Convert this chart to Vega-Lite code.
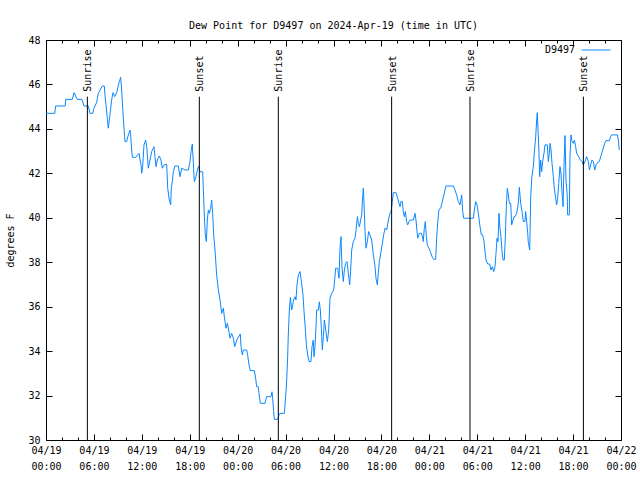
{
  "$schema": "https://vega.github.io/schema/vega-lite/v6.json",
  "width": 575,
  "height": 400,
  "autosize": "none",
  "padding": {"left": 46, "top": 40, "right": 19, "bottom": 40},
  "background": "white",
  "config": {
    "view": {"stroke": "black", "strokeWidth": 1},
    "font": "DejaVu Sans Mono"
  },
  "title": {
    "text": "Dew Point for D9497 on 2024-Apr-19 (time in UTC)",
    "font": "DejaVu Sans Mono",
    "fontSize": 10,
    "fontWeight": "normal",
    "color": "black",
    "frame": "group",
    "anchor": "middle",
    "baseline": "alphabetic",
    "offset": -4
  },
  "datasets": {
    "dew": [
      {"hour":0,"dewpoint":44.7},{"hour":1.1,"dewpoint":44.7},{"hour":1.2,"dewpoint":45.03},{"hour":2.4,"dewpoint":45.03},{"hour":2.47,"dewpoint":45.33},{"hour":3.3,"dewpoint":45.33},{"hour":3.51,"dewpoint":45.63},{"hour":3.92,"dewpoint":45.33},{"hour":4.5,"dewpoint":45.33},{"hour":4.76,"dewpoint":45.03},{"hour":5.3,"dewpoint":45.03},{"hour":5.51,"dewpoint":44.7},{"hour":5.85,"dewpoint":44.7},{"hour":6.01,"dewpoint":44.92},{"hour":6.35,"dewpoint":45.2},{"hour":6.55,"dewpoint":45.6},{"hour":7.05,"dewpoint":45.93},{"hour":7.3,"dewpoint":45.93},{"hour":7.39,"dewpoint":45.5},{"hour":7.68,"dewpoint":44.48},{"hour":7.8,"dewpoint":44.03},{"hour":7.98,"dewpoint":44.55},{"hour":8.23,"dewpoint":45.33},{"hour":8.39,"dewpoint":45.63},{"hour":8.6,"dewpoint":45.45},{"hour":8.85,"dewpoint":45.63},{"hour":9.14,"dewpoint":46.08},{"hour":9.35,"dewpoint":46.32},{"hour":9.48,"dewpoint":45.75},{"hour":9.64,"dewpoint":44.7},{"hour":9.8,"dewpoint":43.88},{"hour":9.89,"dewpoint":43.43},{"hour":10.1,"dewpoint":43.43},{"hour":10.31,"dewpoint":43.73},{"hour":10.52,"dewpoint":43.95},{"hour":10.6,"dewpoint":43.73},{"hour":10.73,"dewpoint":43.05},{"hour":10.81,"dewpoint":42.72},{"hour":11.23,"dewpoint":42.72},{"hour":11.65,"dewpoint":42.9},{"hour":11.93,"dewpoint":42.3},{"hour":11.98,"dewpoint":42.0},
      {"hour":12.1,"dewpoint":42.3},{"hour":12.27,"dewpoint":43.28},{"hour":12.48,"dewpoint":43.5},{"hour":12.61,"dewpoint":43.2},{"hour":12.81,"dewpoint":42.23},{"hour":13.02,"dewpoint":42.6},{"hour":13.23,"dewpoint":42.98},{"hour":13.52,"dewpoint":43.2},{"hour":13.65,"dewpoint":42.75},{"hour":13.77,"dewpoint":42.3},{"hour":13.94,"dewpoint":42.6},{"hour":14.19,"dewpoint":42.78},{"hour":14.4,"dewpoint":42.6},{"hour":14.57,"dewpoint":42.23},{"hour":14.78,"dewpoint":42.38},{"hour":15.11,"dewpoint":42.41},{"hour":15.24,"dewpoint":41.33},{"hour":15.44,"dewpoint":40.8},{"hour":15.61,"dewpoint":40.58},{"hour":15.69,"dewpoint":41.33},{"hour":15.82,"dewpoint":41.63},{"hour":15.94,"dewpoint":42.07},{"hour":16.15,"dewpoint":42.33},{"hour":16.57,"dewpoint":42.33},{"hour":16.78,"dewpoint":41.85},{"hour":16.99,"dewpoint":42.23},{"hour":17.41,"dewpoint":42.15},{"hour":17.82,"dewpoint":42.15},{"hour":18.03,"dewpoint":42.52},{"hour":18.16,"dewpoint":42.98},{"hour":18.32,"dewpoint":43.32},{"hour":18.45,"dewpoint":42.45},{"hour":18.57,"dewpoint":41.63},{"hour":18.78,"dewpoint":41.85},{"hour":18.95,"dewpoint":42.15},{"hour":19.12,"dewpoint":42.33},{"hour":19.28,"dewpoint":42.07},{"hour":19.62,"dewpoint":42.07},{"hour":19.7,"dewpoint":41.33},{"hour":19.83,"dewpoint":40.05},{"hour":19.95,"dewpoint":39.23},{"hour":20.08,"dewpoint":38.93},{"hour":20.2,"dewpoint":39.9},{"hour":20.33,"dewpoint":40.35},{"hour":20.45,"dewpoint":40.2},{"hour":20.62,"dewpoint":40.43},{"hour":20.74,"dewpoint":40.8},{"hour":20.87,"dewpoint":40.2},{"hour":21.0,"dewpoint":39.23},{"hour":21.16,"dewpoint":38.55},{"hour":21.37,"dewpoint":37.43},{"hour":21.58,"dewpoint":36.75},{"hour":21.79,"dewpoint":36.3},{"hour":22.0,"dewpoint":35.7},{"hour":22.21,"dewpoint":35.93},{"hour":22.33,"dewpoint":35.55},{"hour":22.54,"dewpoint":35.03},{"hour":22.71,"dewpoint":35.25},{"hour":22.87,"dewpoint":34.95},{"hour":23.04,"dewpoint":34.58},{"hour":23.25,"dewpoint":34.8},{"hour":23.46,"dewpoint":34.58},{"hour":23.63,"dewpoint":34.2},{"hour":23.88,"dewpoint":34.5},
      {"hour":24.17,"dewpoint":34.68},{"hour":24.33,"dewpoint":34.77},{"hour":24.42,"dewpoint":34.2},{"hour":24.58,"dewpoint":33.83},{"hour":24.71,"dewpoint":34.05},{"hour":25.13,"dewpoint":34.05},{"hour":25.25,"dewpoint":33.83},{"hour":25.42,"dewpoint":33.38},{"hour":25.59,"dewpoint":33.12},{"hour":26.09,"dewpoint":33.12},{"hour":26.25,"dewpoint":32.78},{"hour":26.38,"dewpoint":32.4},{"hour":26.59,"dewpoint":32.4},{"hour":26.67,"dewpoint":32.1},{"hour":26.84,"dewpoint":31.65},{"hour":27.42,"dewpoint":31.65},{"hour":27.63,"dewpoint":31.95},{"hour":28.17,"dewpoint":31.95},{"hour":28.3,"dewpoint":32.17},{"hour":28.38,"dewpoint":31.88},{"hour":28.51,"dewpoint":31.28},{"hour":28.59,"dewpoint":30.93},{"hour":29.01,"dewpoint":30.93},{"hour":29.18,"dewpoint":31.13},{"hour":29.3,"dewpoint":31.2},{"hour":29.84,"dewpoint":31.2},{"hour":30.01,"dewpoint":31.95},{"hour":30.14,"dewpoint":32.7},{"hour":30.26,"dewpoint":33.75},{"hour":30.34,"dewpoint":34.73},{"hour":30.47,"dewpoint":35.85},{"hour":30.6,"dewpoint":36.42},{"hour":30.76,"dewpoint":35.85},{"hour":30.89,"dewpoint":36.08},{"hour":31.01,"dewpoint":36.3},{"hour":31.18,"dewpoint":36.45},{"hour":31.3,"dewpoint":36.3},{"hour":31.43,"dewpoint":36.98},{"hour":31.6,"dewpoint":37.43},{"hour":31.81,"dewpoint":37.58},{"hour":32.01,"dewpoint":37.05},{"hour":32.18,"dewpoint":36.53},{"hour":32.31,"dewpoint":35.78},{"hour":32.47,"dewpoint":35.03},{"hour":32.6,"dewpoint":34.28},{"hour":32.77,"dewpoint":33.83},{"hour":32.93,"dewpoint":33.53},{"hour":33.18,"dewpoint":33.53},{"hour":33.31,"dewpoint":34.2},{"hour":33.47,"dewpoint":34.5},{"hour":33.56,"dewpoint":33.75},{"hour":33.68,"dewpoint":34.2},{"hour":33.81,"dewpoint":35.1},{"hour":33.89,"dewpoint":35.85},{"hour":34.1,"dewpoint":35.85},{"hour":34.23,"dewpoint":36.22},{"hour":34.35,"dewpoint":35.85},{"hour":34.48,"dewpoint":35.03},{"hour":34.6,"dewpoint":34.05},{"hour":34.73,"dewpoint":34.65},{"hour":34.85,"dewpoint":35.4},{"hour":34.98,"dewpoint":35.1},{"hour":35.1,"dewpoint":34.75},{"hour":35.23,"dewpoint":34.43},{"hour":35.4,"dewpoint":34.95},{"hour":35.56,"dewpoint":36.38},{"hour":35.77,"dewpoint":36.6},{"hour":36.02,"dewpoint":36.75},{"hour":36.15,"dewpoint":37.23},
      {"hour":36.27,"dewpoint":37.73},{"hour":36.52,"dewpoint":37.73},{"hour":36.69,"dewpoint":37.28},{"hour":36.81,"dewpoint":38.63},{"hour":36.94,"dewpoint":39.15},{"hour":37.06,"dewpoint":37.8},{"hour":37.23,"dewpoint":37.13},{"hour":37.36,"dewpoint":37.65},{"hour":37.52,"dewpoint":37.95},{"hour":37.69,"dewpoint":38.03},{"hour":37.86,"dewpoint":37.5},{"hour":38.03,"dewpoint":36.98},{"hour":38.15,"dewpoint":37.65},{"hour":38.28,"dewpoint":38.55},{"hour":38.48,"dewpoint":38.93},{"hour":38.69,"dewpoint":39.08},{"hour":38.82,"dewpoint":39.45},{"hour":38.99,"dewpoint":40.05},{"hour":39.11,"dewpoint":39.75},{"hour":39.24,"dewpoint":39.6},{"hour":39.4,"dewpoint":39.9},{"hour":39.53,"dewpoint":40.13},{"hour":39.65,"dewpoint":40.95},{"hour":39.74,"dewpoint":41.33},{"hour":39.82,"dewpoint":40.65},{"hour":39.95,"dewpoint":39.38},{"hour":40.07,"dewpoint":38.63},{"hour":40.24,"dewpoint":38.93},{"hour":40.4,"dewpoint":39.38},{"hour":40.57,"dewpoint":39.23},{"hour":40.78,"dewpoint":39.0},{"hour":40.99,"dewpoint":38.33},{"hour":41.2,"dewpoint":37.8},{"hour":41.32,"dewpoint":37.28},{"hour":41.49,"dewpoint":36.98},{"hour":41.61,"dewpoint":37.5},{"hour":41.74,"dewpoint":38.03},{"hour":41.95,"dewpoint":38.48},{"hour":42.12,"dewpoint":38.85},{"hour":42.28,"dewpoint":39.23},{"hour":42.45,"dewpoint":39.53},{"hour":42.66,"dewpoint":39.45},{"hour":42.87,"dewpoint":39.9},{"hour":43.08,"dewpoint":40.2},{"hour":43.2,"dewpoint":40.28},{"hour":43.37,"dewpoint":40.73},{"hour":43.49,"dewpoint":41.13},{"hour":43.83,"dewpoint":41.13},{"hour":44.04,"dewpoint":40.88},{"hour":44.2,"dewpoint":40.65},{"hour":44.33,"dewpoint":40.5},{"hour":44.45,"dewpoint":40.73},{"hour":44.62,"dewpoint":40.73},{"hour":44.74,"dewpoint":40.28},{"hour":44.87,"dewpoint":40.05},{"hour":45.0,"dewpoint":40.28},{"hour":45.16,"dewpoint":39.83},{"hour":45.29,"dewpoint":39.68},{"hour":45.45,"dewpoint":39.83},{"hour":45.58,"dewpoint":39.9},{"hour":46.0,"dewpoint":39.9},{"hour":46.21,"dewpoint":40.2},{"hour":46.33,"dewpoint":39.9},{"hour":46.46,"dewpoint":39.38},{"hour":46.54,"dewpoint":39.08},{"hour":46.75,"dewpoint":39.3},{"hour":47.04,"dewpoint":39.3},{"hour":47.17,"dewpoint":39.08},{"hour":47.24,"dewpoint":38.93},{"hour":47.37,"dewpoint":39.53},
      {"hour":47.5,"dewpoint":39.83},{"hour":47.63,"dewpoint":39.15},{"hour":47.75,"dewpoint":38.78},{"hour":47.96,"dewpoint":38.63},{"hour":48.17,"dewpoint":38.43},{"hour":48.38,"dewpoint":38.22},{"hour":48.54,"dewpoint":38.13},{"hour":48.79,"dewpoint":38.13},{"hour":48.92,"dewpoint":39.08},{"hour":49.04,"dewpoint":39.75},{"hour":49.21,"dewpoint":40.38},{"hour":49.42,"dewpoint":40.43},{"hour":49.67,"dewpoint":40.8},{"hour":49.96,"dewpoint":41.25},{"hour":50.09,"dewpoint":41.43},{"hour":51.01,"dewpoint":41.43},{"hour":51.21,"dewpoint":41.25},{"hour":51.42,"dewpoint":41.03},{"hour":51.63,"dewpoint":40.73},{"hour":51.84,"dewpoint":40.58},{"hour":52.05,"dewpoint":41.03},{"hour":52.18,"dewpoint":40.28},{"hour":52.3,"dewpoint":39.98},{"hour":53.51,"dewpoint":39.98},{"hour":53.64,"dewpoint":40.35},{"hour":53.8,"dewpoint":40.73},{"hour":53.97,"dewpoint":40.58},{"hour":54.14,"dewpoint":40.2},{"hour":54.35,"dewpoint":39.6},{"hour":54.51,"dewpoint":39.23},{"hour":54.68,"dewpoint":39.23},{"hour":54.85,"dewpoint":38.93},{"hour":54.97,"dewpoint":38.48},{"hour":55.1,"dewpoint":38.1},{"hour":55.3,"dewpoint":37.92},{"hour":55.56,"dewpoint":37.92},{"hour":55.72,"dewpoint":37.65},{"hour":55.89,"dewpoint":37.8},{"hour":56.06,"dewpoint":37.58},{"hour":56.22,"dewpoint":37.8},{"hour":56.35,"dewpoint":38.4},{"hour":56.47,"dewpoint":39.08},{"hour":56.6,"dewpoint":38.93},{"hour":56.72,"dewpoint":40.2},{"hour":56.85,"dewpoint":39.53},{"hour":56.97,"dewpoint":39.15},{"hour":57.1,"dewpoint":38.48},{"hour":57.23,"dewpoint":38.1},{"hour":57.39,"dewpoint":38.1},{"hour":57.52,"dewpoint":39.15},{"hour":57.64,"dewpoint":40.5},{"hour":57.77,"dewpoint":41.33},{"hour":57.89,"dewpoint":41.03},{"hour":58.02,"dewpoint":40.65},{"hour":58.19,"dewpoint":40.65},{"hour":58.31,"dewpoint":39.68},{"hour":58.48,"dewpoint":39.9},{"hour":58.6,"dewpoint":40.05},
      {"hour":58.73,"dewpoint":40.05},{"hour":58.94,"dewpoint":40.2},{"hour":59.14,"dewpoint":40.65},{"hour":59.27,"dewpoint":41.37},{"hour":59.44,"dewpoint":40.65},{"hour":59.64,"dewpoint":40.2},{"hour":59.77,"dewpoint":39.83},{"hour":59.98,"dewpoint":39.83},{"hour":60.06,"dewpoint":40.28},{"hour":60.19,"dewpoint":39.83},{"hour":60.32,"dewpoint":39.3},{"hour":60.39,"dewpoint":38.9},{"hour":60.57,"dewpoint":38.55},{"hour":60.69,"dewpoint":40.88},{"hour":60.82,"dewpoint":41.78},{"hour":61.02,"dewpoint":42.3},{"hour":61.15,"dewpoint":42.98},{"hour":61.32,"dewpoint":43.65},{"hour":61.44,"dewpoint":44.4},{"hour":61.52,"dewpoint":44.73},{"hour":61.61,"dewpoint":43.95},{"hour":61.73,"dewpoint":42.9},{"hour":61.82,"dewpoint":41.85},{"hour":61.94,"dewpoint":42.6},{"hour":62.07,"dewpoint":42.08},{"hour":62.19,"dewpoint":42.53},{"hour":62.36,"dewpoint":42.9},{"hour":62.48,"dewpoint":43.28},{"hour":62.78,"dewpoint":43.28},{"hour":62.9,"dewpoint":42.53},{"hour":63.03,"dewpoint":42.9},{"hour":63.11,"dewpoint":43.35},{"hour":63.24,"dewpoint":43.05},{"hour":63.36,"dewpoint":42.45},{"hour":63.53,"dewpoint":41.85},{"hour":63.65,"dewpoint":41.33},{"hour":63.82,"dewpoint":40.88},{"hour":63.94,"dewpoint":40.58},{"hour":64.07,"dewpoint":40.88},{"hour":64.2,"dewpoint":41.55},{"hour":64.36,"dewpoint":42.3},{"hour":64.49,"dewpoint":41.97},{"hour":64.61,"dewpoint":41.18},{"hour":64.74,"dewpoint":40.5},{"hour":64.86,"dewpoint":42.3},{"hour":64.99,"dewpoint":43.7},{"hour":65.11,"dewpoint":41.7},{"hour":65.28,"dewpoint":40.95},{"hour":65.32,"dewpoint":40.13},{"hour":65.53,"dewpoint":40.13},{"hour":65.61,"dewpoint":42.75},{"hour":65.74,"dewpoint":43.73},{"hour":65.86,"dewpoint":43.43},{"hour":66.03,"dewpoint":43.35},{"hour":66.16,"dewpoint":43.5},{"hour":66.32,"dewpoint":43.2},{"hour":66.45,"dewpoint":42.9},{"hour":66.66,"dewpoint":42.78},{"hour":66.87,"dewpoint":42.63},{"hour":67.12,"dewpoint":42.53},{"hour":67.29,"dewpoint":42.38},{"hour":67.49,"dewpoint":42.53},{"hour":67.7,"dewpoint":42.75},{"hour":67.91,"dewpoint":42.53},{"hour":68.04,"dewpoint":42.15},{"hour":68.2,"dewpoint":42.38},{"hour":68.37,"dewpoint":42.6},{"hour":68.54,"dewpoint":42.53},{"hour":68.71,"dewpoint":42.15},{"hour":68.87,"dewpoint":42.38},{"hour":69.04,"dewpoint":42.48},{"hour":69.29,"dewpoint":42.53},{"hour":69.46,"dewpoint":42.75},{"hour":69.71,"dewpoint":43.05},{"hour":69.96,"dewpoint":43.35},{"hour":70.12,"dewpoint":43.47},{"hour":70.54,"dewpoint":43.47},{"hour":70.71,"dewpoint":43.65},{"hour":70.83,"dewpoint":43.73},{"hour":71.54,"dewpoint":43.73},{"hour":71.67,"dewpoint":43.5},{"hour":71.79,"dewpoint":43.05}
    ],
    "sun": [
      {"hour":5.18,"event":"Sunrise"},{"hour":19.2,"event":"Sunset"},{"hour":29.09,"event":"Sunrise"},{"hour":43.28,"event":"Sunset"},{"hour":53.09,"event":"Sunrise"},{"hour":67.29,"event":"Sunset"}
    ]
  },
  "layer": [
    {
      "data": {"name": "dew"},
      "mark": {"type": "line", "color": "#0a88ff", "strokeWidth": 1},
      "encoding": {
        "x": {
          "field": "hour", "type": "quantitative",
          "scale": {"domain": [0, 72], "nice": false, "zero": false},
          "axis": {
            "orient": "bottom",
            "values": [0,2,4,6,8,10,12,14,16,18,20,22,24,26,28,30,32,34,36,38,40,42,44,46,48,50,52,54,56,58,60,62,64,66,68,70,72],
            "domain": false, "grid": false,
            "tickColor": "black",
            "tickSize": {"condition": {"test": "datum.value % 6 === 0", "value": -6}, "value": -3},
            "labelExpr": "datum.value % 6 === 0 ? ['04/' + (19 + floor(datum.value / 24)), (datum.value % 24 < 10 ? '0' : '') + (datum.value % 24) + ':00'] : ''",
            "labelFont": "DejaVu Sans Mono", "labelFontSize": 10, "labelColor": "black",
            "labelPadding": 11, "labelLineHeight": 16, "labelBaseline": "top",
            "labelOverlap": false, "labelFlush": false, "labelBound": false,
            "title": null
          }
        },
        "y": {
          "field": "dewpoint", "type": "quantitative",
          "scale": {"domain": [30, 48], "nice": false, "zero": false},
          "axis": {
            "orient": "left",
            "values": [30,32,34,36,38,40,42,44,46,48],
            "domain": false, "grid": false,
            "tickColor": "black", "tickSize": -6,
            "labelFont": "DejaVu Sans Mono", "labelFontSize": 10, "labelColor": "black",
            "labelPadding": 12,
            "title": "degrees F",
            "titleFont": "DejaVu Sans Mono", "titleFontSize": 10, "titleFontWeight": "normal", "titleColor": "black",
            "titleX": -36, "titleY": 200, "titleAngle": 270, "titleBaseline": "middle", "titleAlign": "center"
          }
        },
        "color": {
          "datum": "D9497", "type": "nominal",
          "scale": {"range": ["#0a88ff"]},
          "legend": {
            "orient": "none", "legendX": 535, "legendY": -5,
            "title": null, "padding": 0,
            "symbolType": "stroke", "symbolSize": 841, "symbolStrokeWidth": 1,
            "labelAlign": "right", "labelOffset": -36,
            "labelFont": "DejaVu Sans Mono", "labelFontSize": 10, "labelColor": "black"
          }
        }
      }
    },
    {
      "data": {"name": "sun"},
      "mark": {"type": "rule", "color": "black", "strokeWidth": 1},
      "encoding": {
        "x": {
          "field": "hour", "type": "quantitative",
          "axis": {
            "orient": "top",
            "values": [0,2,4,6,8,10,12,14,16,18,20,22,24,26,28,30,32,34,36,38,40,42,44,46,48,50,52,54,56,58,60,62,64,66,68,70,72],
            "domain": false, "grid": false, "labels": false,
            "tickColor": "black",
            "tickSize": {"condition": {"test": "datum.value % 6 === 0", "value": -6}, "value": -3},
            "title": null
          }
        },
        "y": {
          "datum": 30, "type": "quantitative",
          "axis": {
            "orient": "right",
            "values": [30,32,34,36,38,40,42,44,46,48],
            "domain": false, "grid": false, "labels": false,
            "tickColor": "black", "tickSize": -6,
            "title": null
          }
        },
        "y2": {"datum": 45.45}
      }
    },
    {
      "data": {"name": "sun"},
      "mark": {"type": "text", "angle": 270, "align": "left", "baseline": "middle", "dx": 5, "dy": 1, "font": "DejaVu Sans Mono", "fontSize": 10, "color": "black"},
      "encoding": {
        "x": {"field": "hour", "type": "quantitative", "axis": null},
        "y": {"datum": 45.45, "type": "quantitative", "axis": null},
        "text": {"field": "event"}
      }
    }
  ],
  "resolve": {"axis": {"x": "independent", "y": "independent"}}
}
